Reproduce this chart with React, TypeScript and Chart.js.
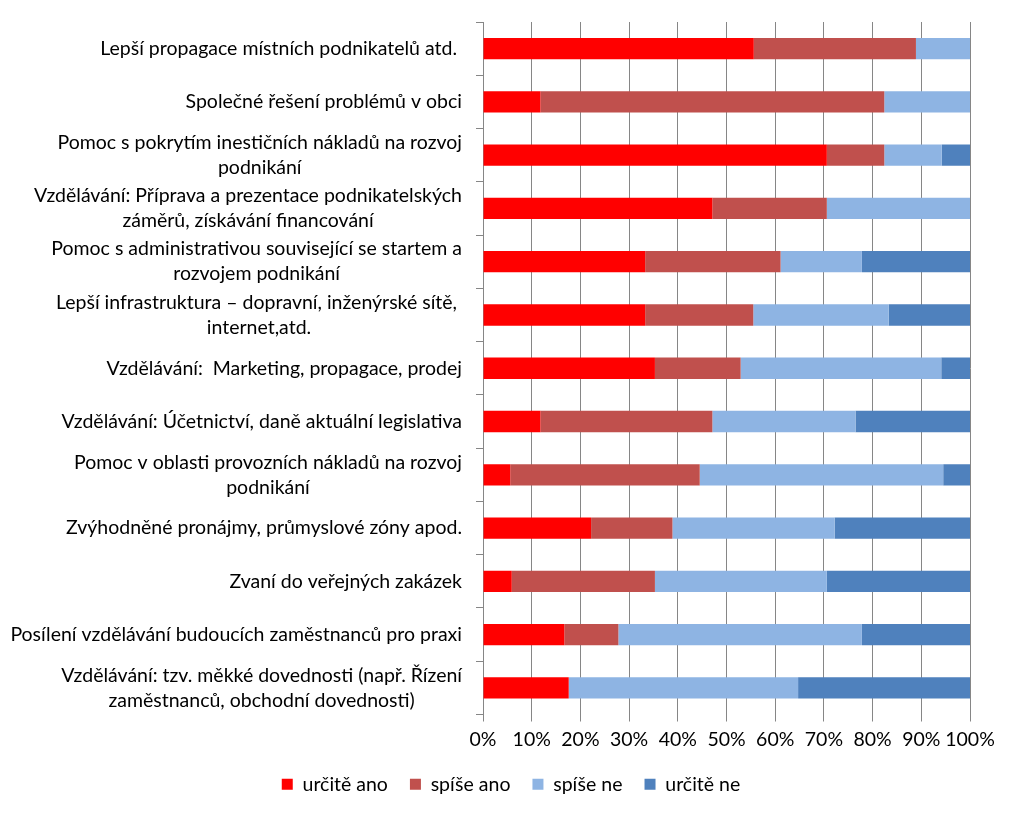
import React, { useEffect, useRef } from "react";
import { Chart, registerables } from "chart.js";

Chart.register(...registerables);

const categories: (string | string[])[] = [
  "Lepší propagace místních podnikatelů atd. ",
  "Společné řešení problémů v obci",
  ["Pomoc s pokrytím inestičních nákladů na rozvoj", "podnikání"],
  ["Vzdělávání: Příprava a prezentace podnikatelských", "záměrů, získávání financování"],
  ["Pomoc s administrativou související se startem a", "rozvojem podnikání"],
  ["Lepší infrastruktura – dopravní, inženýrské sítě, ", "internet,atd."],
  "Vzdělávání:  Marketing, propagace, prodej",
  "Vzdělávání: Účetnictví, daně aktuální legislativa",
  ["Pomoc v oblasti provozních nákladů na rozvoj", "podnikání"],
  "Zvýhodněné pronájmy, průmyslové zóny apod.",
  "Zvaní do veřejných zakázek",
  "Posílení vzdělávání budoucích zaměstnanců pro praxi",
  ["Vzdělávání: tzv. měkké dovednosti (např. Řízení", "zaměstnanců, obchodní dovednosti)"],
];

const urciteAno = [55.6, 11.8, 70.6, 47.1, 33.3, 33.3, 35.3, 11.8, 5.6, 22.2, 5.9, 16.7, 17.6];
const spiseAno = [33.3, 70.6, 11.8, 23.5, 27.8, 22.2, 17.6, 35.3, 38.9, 16.7, 29.4, 11.1, 0];
const spiseNe = [11.1, 17.6, 11.8, 29.4, 16.7, 27.8, 41.2, 29.4, 50.0, 33.3, 35.3, 50.0, 47.1];
const urciteNe = [0, 0, 5.9, 0, 22.2, 16.7, 5.9, 23.5, 5.6, 27.8, 29.4, 22.2, 35.3];

const seriesNames = ["určitě ano", "spíše ano", "spíše ne", "určitě ne"];
const seriesColors = ["#FF0000", "#C0504D", "#8EB4E3", "#4F81BD"];
const xTicks = [0, 10, 20, 30, 40, 50, 60, 70, 80, 90, 100];

const FONT_FAMILY = "Lato";
const FONT_SIZE = 19.5;
const LINE_H = 25;
const GRID = "#868686";
const LEGEND_SHIFT = 22;

const labelPlugin = {
  id: "catLabels",
  afterLayout(chart: any) {
    const lg = chart.legend;
    if (lg) {
      lg.left += LEGEND_SHIFT;
      lg.right += LEGEND_SHIFT;
    }
  },
  afterDraw(chart: any) {
    const { ctx, chartArea } = chart;
    const yScale = chart.scales.y;
    ctx.save();
    ctx.font = `${FONT_SIZE}px ${FONT_FAMILY}`;
    ctx.fillStyle = "#000";
    ctx.textAlign = "center";
    ctx.textBaseline = "middle";
    const right = chartArea.left - 21;
    categories.forEach((lab, i) => {
      const lines = Array.isArray(lab) ? lab : [lab];
      const w = Math.max(...lines.map((l) => ctx.measureText(l).width));
      const cx = right - w / 2;
      const cy = yScale.getPixelForValue(i);
      lines.forEach((l, j) => {
        ctx.fillText(l, cx, cy + (j - (lines.length - 1) / 2) * LINE_H);
      });
    });
    ctx.restore();
  },
};

export default function App() {
  const ref = useRef<HTMLCanvasElement | null>(null);
  useEffect(() => {
    if (!ref.current) return;
    const data = [urciteAno, spiseAno, spiseNe, urciteNe];
    const chart = new Chart(ref.current, {
      type: "bar",
      data: {
        labels: categories.map((c) => (Array.isArray(c) ? c.join(" ") : c)),
        datasets: data.map((d, i) => ({
          label: seriesNames[i],
          data: d,
          backgroundColor: seriesColors[i],
          borderWidth: 0,
          barPercentage: 0.4,
          categoryPercentage: 1,
        })),
      },
      options: {
        indexAxis: "y",
        animation: false,
        responsive: true,
        maintainAspectRatio: false,
        layout: { padding: { top: 14, right: 39, bottom: 5, left: 0 } },
        scales: {
          x: {
            stacked: true,
            min: 0,
            max: 100,
            afterBuildTicks: (s: any) => {
              s.ticks = xTicks.map((v) => ({ value: v }));
            },
            afterFit: (s: any) => {
              s.height = 38;
            },
            ticks: {
              callback: (v: any) => `${v}%`,
              color: "#000",
              font: { family: FONT_FAMILY, size: FONT_SIZE },
              padding: 7,
              maxRotation: 0,
              autoSkip: false,
            },
            grid: { color: GRID, tickLength: 7, lineWidth: 1 },
            border: { display: false },
          },
          y: {
            stacked: true,
            afterFit: (s: any) => {
              s.width = 475;
            },
            ticks: { display: false },
            grid: { color: GRID, drawOnChartArea: false, tickLength: 7, offset: true },
            border: { display: true, color: GRID },
          },
        },
        plugins: {
          legend: {
            position: "bottom",
            labels: {
              boxWidth: 11,
              boxHeight: 11,
              padding: 22,
              color: "#000",
              font: { family: FONT_FAMILY, size: FONT_SIZE },
            },
          },
          tooltip: { enabled: false },
        },
      },
      plugins: [labelPlugin],
    });
    return () => chart.destroy();
  }, []);
  return (
    <div style={{ width: 1001, height: 801, position: "relative" }}>
      <canvas ref={ref} />
    </div>
  );
}
